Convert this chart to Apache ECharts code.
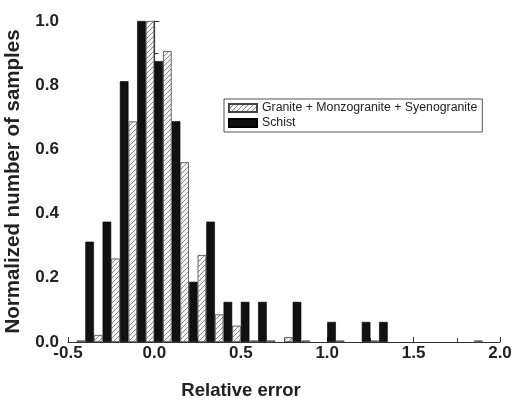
<!DOCTYPE html>
<html lang="en" style="height: 100%">
<head>
  <meta charset="utf-8">
</head>
<body style="height: 100%; margin: 0; background: #fff">
  <div id="container" style="width: 519px; height: 401px"></div>
  <script src="https://fastly.jsdelivr.net/npm/echarts@6.0.0/dist/echarts.min.js"></script>
  <script>
    // bin centres (bin width 0.1) and normalized counts
    var binCenters = [-0.45, -0.35, -0.25, -0.15, -0.05, 0.05, 0.15, 0.25, 0.35, 0.45,
      0.55, 0.65, 0.75, 0.85, 0.95, 1.05, 1.15, 1.25, 1.35, 1.45, 1.55, 1.65, 1.75, 1.85];
    var granite = [0.005, 0.022, 0.26, 0.687, 1.0, 0.906, 0.56, 0.271, 0.086, 0.051,
      0.005, 0.005, 0.015, 0.005, 0, 0.005, 0, 0.005, 0, 0, 0, 0, 0, 0.005];
    var schist = [0, 0.3125, 0.375, 0.8125, 1.0, 0.875, 0.6875, 0.1875, 0.375, 0.125,
      0.125, 0.125, 0, 0.125, 0, 0.0625, 0, 0.0625, 0.0625, 0, 0, 0, 0, 0];
    var seriesNames = ['Granite + Monzogranite + Syenogranite', 'Schist'];

    function pairs(vals) {
      var out = [];
      binCenters.forEach(function (c, i) {
        if (vals[i] > 0) out.push([c, vals[i]]);
      });
      return out;
    }

    // diagonal hatch for the granite bars
    var hatch = document.createElement('canvas');
    hatch.width = 5;
    hatch.height = 5;
    var ctx = hatch.getContext('2d');
    ctx.fillStyle = '#f4f4f4';
    ctx.fillRect(0, 0, 5, 5);
    ctx.strokeStyle = '#8a8a8a';
    ctx.lineWidth = 1;
    ctx.beginPath();
    ctx.moveTo(-1, 6); ctx.lineTo(6, -1);
    ctx.moveTo(-1, 1); ctx.lineTo(1, -1);
    ctx.moveTo(4, 6); ctx.lineTo(6, 4);
    ctx.stroke();

    var font = '"Liberation Sans", Arial, sans-serif';
    var chart = echarts.init(document.getElementById('container'), null, { renderer: 'canvas' });

    var option = {
      animation: false,
      backgroundColor: '#fff',
      grid: { left: 68, right: 19, top: 21, bottom: 59, containLabel: false, outerBoundsMode: 'none' },
      legend: {
        data: seriesNames,
        orient: 'vertical',
        left: 224,
        top: 99,
        padding: [3, 5, 3, 4],
        itemGap: 3,
        itemWidth: 28,
        itemHeight: 8,
        borderColor: '#555',
        borderWidth: 1,
        icon: 'rect',
        textStyle: { fontFamily: font, fontSize: 12.3, color: '#222' }
      },
      xAxis: {
        type: 'value',
        min: -0.5,
        max: 2.0,
        interval: 0.5,
        name: 'Relative error',
        nameLocation: 'middle',
        nameGap: 39,
        nameTextStyle: { fontFamily: font, fontSize: 18.5, fontWeight: 'bold', color: '#222', padding: [0, 86, 0, 0] },
        axisLine: { show: true, onZero: false, lineStyle: { color: '#333', width: 1.2 } },
        axisTick: { show: true, inside: true, length: 5, lineStyle: { color: '#333' } },
        minorTick: { show: true, splitNumber: 2, length: 4, lineStyle: { color: '#333' } },
        splitLine: { show: false },
        axisLabel: {
          margin: 3,
          fontFamily: font, fontSize: 17, fontWeight: 'bold', color: '#222',
          formatter: function (v) { return v.toFixed(1); }
        }
      },
      yAxis: {
        type: 'value',
        min: 0,
        max: 1.0,
        interval: 0.2,
        name: 'Normalized number of samples',
        nameLocation: 'middle',
        nameGap: 44,
        nameTextStyle: { fontFamily: font, fontSize: 20.5, fontWeight: 'bold', color: '#222' },
        axisLine: { show: true, lineStyle: { color: '#333', width: 1.2 } },
        axisTick: { show: true, inside: true, length: 5, lineStyle: { color: '#333' } },
        minorTick: { show: true, splitNumber: 2, length: 4, lineStyle: { color: '#333' } },
        splitLine: { show: false },
        axisLabel: {
          margin: 9,
          fontFamily: font, fontSize: 17, fontWeight: 'bold', color: '#222',
          formatter: function (v) { return v.toFixed(1); }
        }
      },
      series: [
        {
          name: seriesNames[1],
          type: 'bar',
          barWidth: 8.6,
          barGap: '0%',
          data: pairs(schist),
          itemStyle: { color: '#111', borderColor: '#000', borderWidth: 0.6 }
        },
        {
          name: seriesNames[0],
          type: 'bar',
          barWidth: 8.6,
          barGap: '0%',
          data: pairs(granite),
          itemStyle: { color: { image: hatch, repeat: 'repeat' }, borderColor: '#444', borderWidth: 0.8 }
        }
      ]
    };

    chart.setOption(option);
    window.addEventListener('resize', chart.resize);
  </script>
</body>
</html>
